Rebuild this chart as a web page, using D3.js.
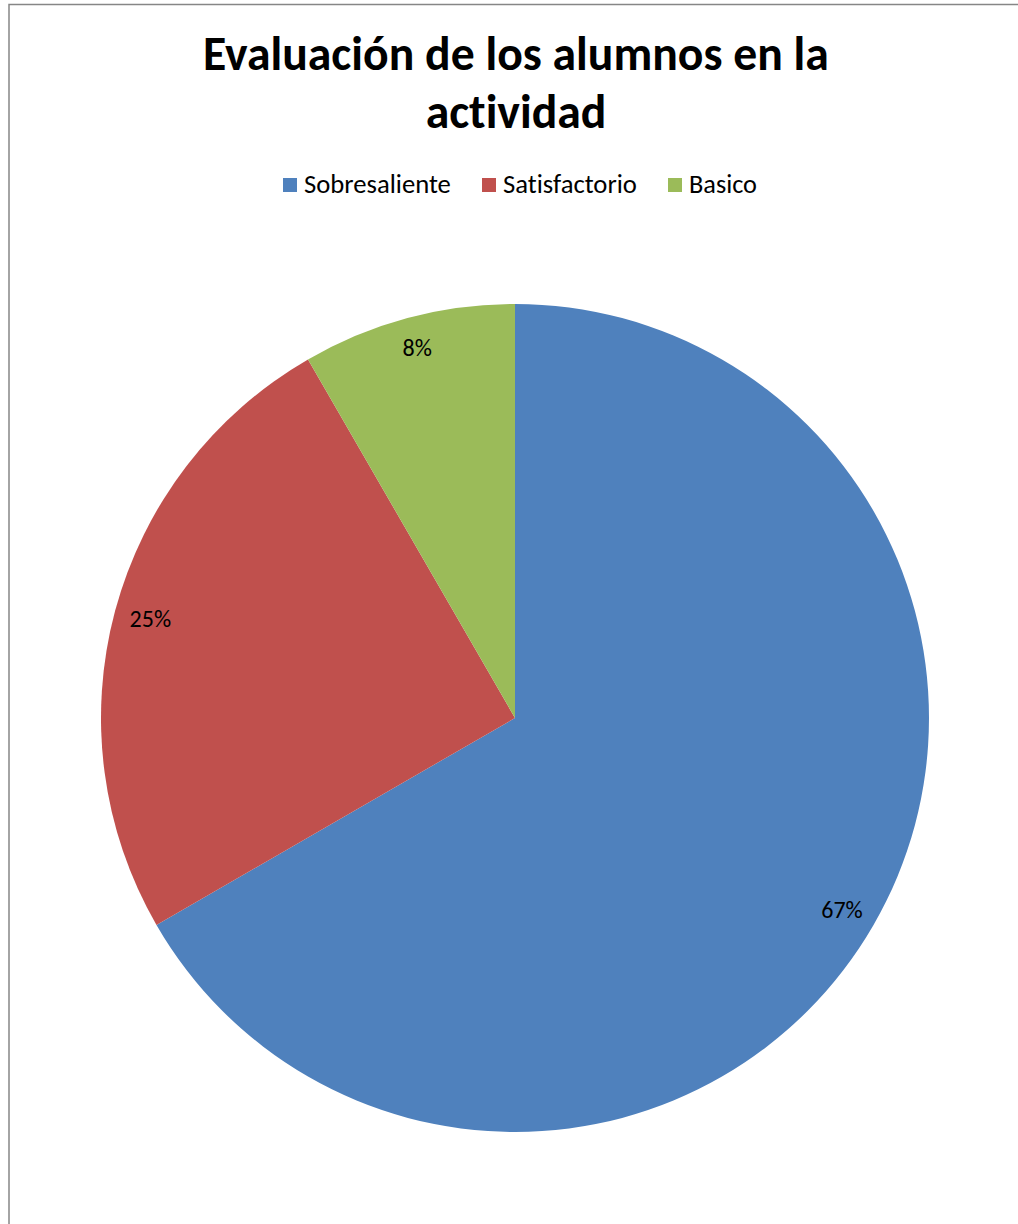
<!DOCTYPE html>
<html>
<head>
<meta charset="utf-8">
<script src="https://cdn.jsdelivr.net/npm/d3@7"></script>
<style>
  html, body { margin: 0; padding: 0; background: #fff; }
  svg { display: block; }
  text { font-variant-ligatures: none; font-feature-settings: "liga" 0, "clig" 0; }
</style>
</head>
<body>
<svg id="chart" width="1018" height="1224"></svg>
<script>
// Student evaluation results
const categories = ["Sobresaliente", "Satisfactorio", "Basico"];
const values = [8, 3, 1];
const colors = ["#4F81BD", "#C0504D", "#9BBB59"];
const titleLines = ["Evaluación de los alumnos en la", "actividad"];

const W = 1018, H = 1224;
const svg = d3.select("#chart");
const font = "Carlito, Calibri, 'Open Sans', 'Liberation Sans', sans-serif";

// fit a text element's font size to a target width
function fitWidth(sel, base, target) {
  const w = sel.node().getComputedTextLength();
  const s = base * target / w;
  sel.style("font-size", s + "px");
  return s;
}

// chart frame
svg.append("rect")
  .attr("x", 9).attr("y", 4.5)
  .attr("width", W).attr("height", H)
  .attr("fill", "#fff")
  .attr("stroke", "#868686").attr("stroke-width", 1.5);

// title
const title = svg.append("g");
const tl1 = title.append("text")
  .attr("x", 516).attr("y", 70)
  .attr("text-anchor", "middle")
  .style("font-family", font).style("font-weight", "bold")
  .style("font-size", "40px").attr("fill", "#000")
  .text(titleLines[0]);
const titleSize = fitWidth(tl1, 40, 626);
title.append("text")
  .attr("x", 516).attr("y", 128)
  .attr("text-anchor", "middle")
  .style("font-family", font).style("font-weight", "bold")
  .style("font-size", titleSize + "px").attr("fill", "#000")
  .text(titleLines[1]);

// legend
const legendX = [283, 482, 668];
const legendW = [147, 134, 68];
const legend = svg.append("g");
categories.forEach((c, i) => {
  legend.append("rect")
    .attr("x", legendX[i]).attr("y", 178)
    .attr("width", 14).attr("height", 14)
    .attr("fill", colors[i]);
  const t = legend.append("text")
    .attr("x", legendX[i] + 21).attr("y", 193)
    .style("font-family", font).style("font-size", "24px")
    .attr("fill", "#000")
    .text(c);
  fitWidth(t, 24, legendW[i]);
});

// pie
const cx = 515, cy = 718, r = 414;
const pie = d3.pie().sort(null).value(d => d.v);
const data = pie(categories.map((c, i) => ({ c, v: values[i], color: colors[i] })));
const arc = d3.arc().innerRadius(0).outerRadius(r);
const labelArc = d3.arc().innerRadius(r * 0.912).outerRadius(r * 0.912);
const total = d3.sum(values);

const g = svg.append("g").attr("transform", `translate(${cx},${cy})`);
g.selectAll("path.slice")
  .data(data)
  .join("path")
  .attr("class", "slice")
  .attr("d", arc)
  .attr("fill", d => d.data.color);

g.selectAll("text.lbl")
  .data(data)
  .join("text")
  .attr("class", "lbl")
  .attr("transform", d => {
    const [x, y] = labelArc.centroid(d);
    return `translate(${x},${y * 1.015})`;
  })
  .attr("text-anchor", "middle")
  .attr("dy", "0.35em")
  .style("font-family", font).style("font-size", "24px")
  .attr("fill", "#000")
  .text(d => Math.round(d.data.v / total * 100) + "%");
</script>
</body>
</html>
